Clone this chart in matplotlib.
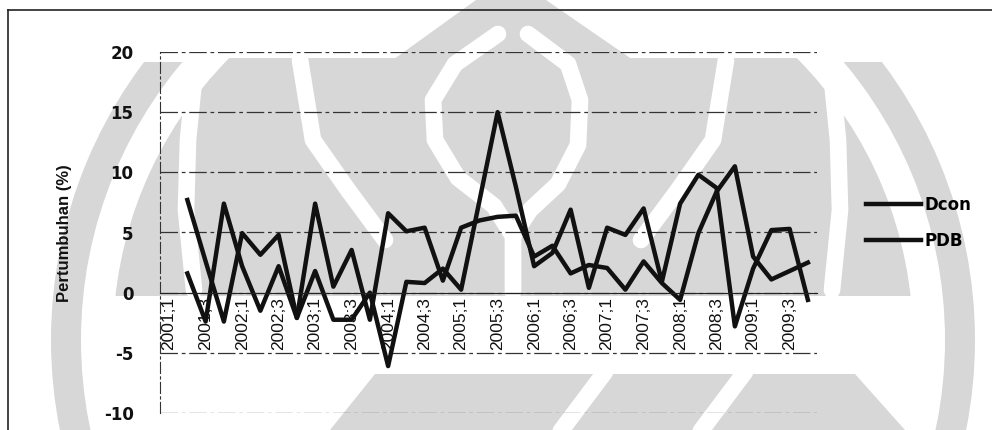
import numpy as np
import matplotlib
matplotlib.use('Agg')
import matplotlib.pyplot as plt
from matplotlib.lines import Line2D
from matplotlib.patches import Circle, Rectangle, Polygon, Wedge

# kuartal 2001;1 - 2009;4
kuartal = ['2001;1', '2001;2', '2001;3', '2001;4', '2002;1', '2002;2', '2002;3', '2002;4',
           '2003;1', '2003;2', '2003;3', '2003;4', '2004;1', '2004;2', '2004;3', '2004;4',
           '2005;1', '2005;2', '2005;3', '2005;4', '2006;1', '2006;2', '2006;3', '2006;4',
           '2007;1', '2007;2', '2007;3', '2007;4', '2008;1', '2008;2', '2008;3', '2008;4',
           '2009;1', '2009;2', '2009;3', '2009;4']

# pertumbuhan (%) per kuartal, kuartal pertama kosong
dcon = [np.nan, 7.7, 2.6, -2.4, 4.95, 3.15, 4.8, -2.1, 1.8, -2.25, -2.25, 0.0,
        -6.1, 0.9, 0.8, 2.0, 0.25, 7.6, 15.0, 8.8, 2.2, 3.3, 6.9, 0.4,
        5.4, 4.8, 7.0, 0.9, 7.4, 9.8, 8.7, -2.8, 2.0, 5.2, 5.3, -0.6]
pdb = [np.nan, 1.6, -2.4, 7.4, 2.2, -1.5, 2.2, -2.1, 7.4, 0.5, 3.55, -2.25,
       6.6, 5.1, 5.4, 1.0, 5.4, 6.0, 6.3, 6.4, 3.0, 3.9, 1.6, 2.3,
       2.05, 0.25, 2.6, 0.8, -0.6, 4.95, 8.4, 10.5, 3.0, 1.1, 1.8, 2.5]

W, H = 992, 430
fig = plt.figure(figsize=(W / 100, H / 100), dpi=100)

# watermark logo abu-abu di belakang grafik (koordinat piksel)
bg = fig.add_axes([0, 0, 1, 1], zorder=-5)
bg.set_xlim(0, W)
bg.set_ylim(H, 0)
bg.axis('off')
abu = '#d7d7d7'
cx, cy = 513, 340
cincin = Wedge((cx, cy), 462, 0, 360, width=30, color=abu, lw=0)
bg.add_patch(cincin)
cincin.set_clip_path(Rectangle((0, 62), W, H, transform=bg.transData))
inner = Circle((cx, cy), 400, color=abu, lw=0)
bg.add_patch(inner)
inner.set_clip_path(Rectangle((0, 58), W, 238, transform=bg.transData))
bg.add_patch(Polygon([(476, 0), (546, 0), (636, 62), (390, 62)], closed=True, color=abu, lw=0))
bg.add_patch(Polygon([(330, 430), (375, 374), (855, 374), (905, 430)], closed=True, color=abu, lw=0))
garis_putih = [
    [(498, 34), (455, 64), (433, 100), (435, 140), (458, 178), (494, 206), (513, 236), (513, 292)],
    [(528, 34), (568, 64), (580, 100), (578, 145), (558, 184), (530, 210), (513, 236)],
    [(300, 60), (313, 140), (348, 190), (385, 240)],
    [(726, 60), (713, 140), (678, 190), (641, 240)],
    [(196, 60), (188, 140), (186, 210), (194, 290)],
    [(830, 60), (838, 140), (840, 210), (832, 290)],
    [(560, 432), (605, 372)],
    [(700, 432), (745, 372)],
]
for p in garis_putih:
    px, py = zip(*p)
    bg.plot(px, py, color='white', lw=12, solid_capstyle='round', solid_joinstyle='round')

# bingkai luar
fig.add_artist(Line2D([8 / W, 8 / W], [0, 1 - 10 / H], color='#222222', lw=1.2))
fig.add_artist(Line2D([8 / W, 1], [1 - 10 / H, 1 - 10 / H], color='#222222', lw=1.2))

ax = fig.add_axes([160 / W, 1 - 413 / H, 657 / W, 361 / H])
ax.patch.set_alpha(0)
x = np.arange(len(kuartal))

# sumbu kategori memotong di 0 (set dulu, karena ini mereset tick)
for s in ['top', 'right']:
    ax.spines[s].set_visible(False)
ax.spines['bottom'].set_position(('data', 0))
ax.spines['bottom'].set_color('#222222')
ax.spines['left'].set_color('#333333')
ax.spines['left'].set_linestyle((0, (10, 3, 2, 3)))

l1, = ax.plot(x, dcon, color='#111111', lw=3.2, label='Dcon')
l2, = ax.plot(x, pdb, color='#111111', lw=3.2, label='PDB')

ax.set_xlim(-0.5, len(kuartal) - 0.5)
ax.set_ylim(-10, 20)
ax.set_yticks([-10, -5, 0, 5, 10, 15, 20])
ax.set_yticklabels(['-10', '-5', '0', '5', '10', '15', '20'],
                   fontsize=12, fontweight='bold', color='#111111')
ax.tick_params(axis='y', length=0, pad=19)

ax.set_xticks(x[::2])
ax.set_xticklabels(kuartal[::2], rotation=90, fontsize=12.5,
                   family='Liberation Sans', color='#111111')
ax.tick_params(axis='x', length=0, pad=3)

ax.grid(axis='y', color='#333333', lw=0.9, linestyle=(0, (14, 3, 3, 3)))
ax.set_axisbelow(True)

fig.text(64 / W, 1 - 233 / H, 'Pertumbuhan (%)', rotation=90, ha='center', va='center',
         fontsize=12, fontweight='bold', family='Liberation Sans', color='#111111')

fig.legend(handles=[l1, l2], loc='center left', bbox_to_anchor=(858 / W, 1 - 223 / H),
           frameon=False, prop={'weight': 'bold', 'size': 12},
           handlelength=3.3, handletextpad=0.2, labelspacing=1.1, borderpad=0)

fig.savefig('out.png', dpi=100)
